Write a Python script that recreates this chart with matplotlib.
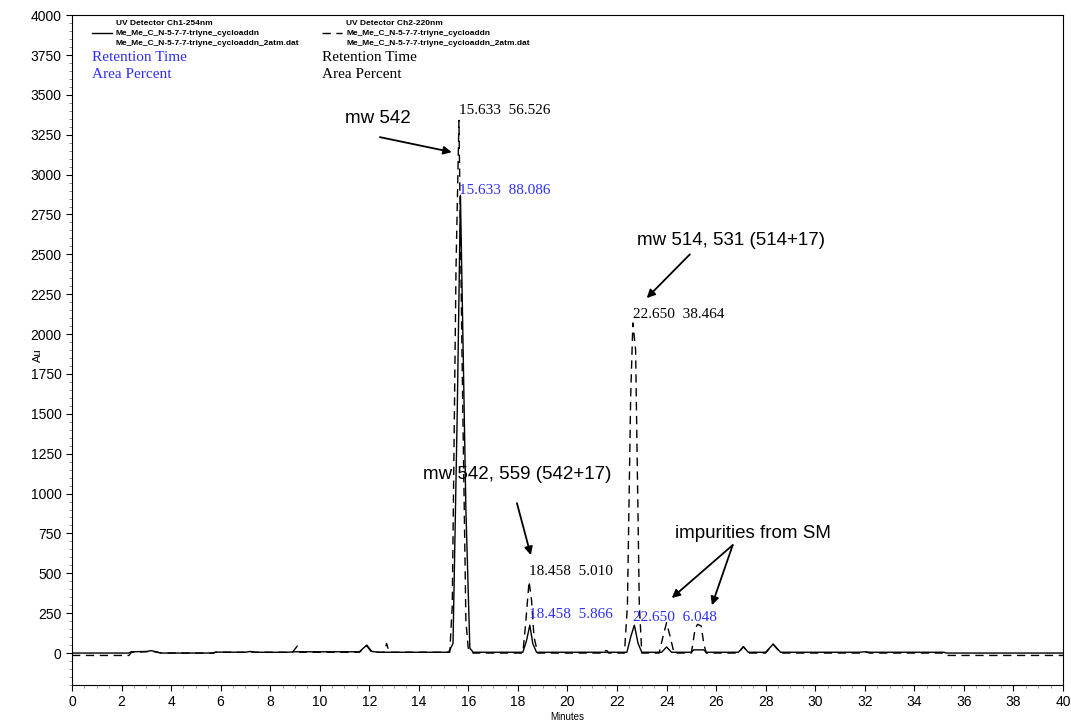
import matplotlib
matplotlib.use("Agg")
import matplotlib.pyplot as plt
from matplotlib.ticker import MultipleLocator

# channel 1 (254 nm), solid trace: time (min), signal (Au)
ch1_t = [0, 2.3, 2.4, 3.0, 3.2, 3.4, 3.6, 5.7, 5.8, 7.0, 7.2, 7.4, 8.7, 9.0,
         11.6, 11.9, 12.1, 12.4, 15.2, 15.38, 15.55, 15.68, 15.8, 15.9, 16.06, 16.2,
         18.2, 18.35, 18.48, 18.6, 18.75, 21.5, 22.4, 22.55, 22.7, 22.85, 23.0,
         23.8, 24.0, 24.2, 25.0, 25.1, 25.5, 25.6, 26.9, 27.1, 27.3, 28.0, 28.3,
         28.6, 31.8, 32.0, 32.2, 34.5, 35.2, 35.3, 40]
ch1_v = [0, 0, 8, 10, 15, 8, 0, 0, 6, 5, 10, 5, 5, 8,
         8, 50, 10, 5, 5, 60, 1500, 2870, 1800, 900, 30, 5,
         5, 80, 175, 60, 5, 5, 5, 100, 175, 60, 5,
         5, 38, 5, 5, 20, 20, 5, 5, 40, 5, 5, 56,
         5, 5, 8, 5, 5, 5, 0, 0]

# channel 2 (220 nm), dashed trace
ch2_t = [0, 2.3, 2.4, 3.0, 3.2, 3.4, 3.6, 5.7, 5.8, 7.0, 7.2, 7.4, 8.9, 9.1,
         9.2, 11.6, 11.9, 12.1, 12.6, 12.7, 12.8, 15.25, 15.35, 15.5, 15.62, 15.75,
         15.9, 16.0, 16.2, 18.2, 18.32, 18.45, 18.55, 18.65, 18.8, 21.35, 21.4,
         21.6, 21.65, 22.3, 22.42, 22.55, 22.64, 22.75, 22.9, 23.0, 23.7, 23.85,
         24.0, 24.15, 24.3, 25.0, 25.15, 25.25, 25.4, 25.5, 25.6, 26.9, 27.1, 27.3,
         28.0, 28.3, 28.6, 31.8, 32.0, 32.2, 35.2, 35.3, 40]
ch2_v = [-15, -15, 5, 8, 12, 6, 0, 0, 5, 5, 8, 5, 5, 45,
         5, 5, 45, 5, 5, 60, 5, 5, 300, 2400, 3340, 1800,
         200, 20, 0, 0, 200, 450, 330, 100, 0, 0, 15,
         15, 0, 0, 300, 1600, 2070, 1900, 300, 0, 0, 100,
         190, 100, 0, 0, 150, 180, 170, 60, 0, 0, 40, 0,
         0, 56, 0, 0, 8, 0, 0, -15, -15]

# peak annotations: x (min), y (Au), text, colour
peak_x = [15.633, 15.633, 18.458, 18.458, 22.650, 22.650]
peak_y = [3360, 2860, 470, 200, 2080, 185]
peak_txt = ["15.633  56.526", "15.633  88.086", "18.458  5.010",
            "18.458  5.866", "22.650  38.464", "22.650  6.048"]
peak_col = ["black", "#2e2eff", "black", "#2e2eff", "black", "#2e2eff"]

blue = "#2e2eff"
sans = "Liberation Sans"
serif = "Liberation Serif"

fig = plt.figure(figsize=(10.71, 7.21), dpi=100)
ax = fig.add_axes([0.0672, 0.05, 0.9253, 0.929])

ax.plot(ch1_t, ch1_v, color="black", lw=1.0)
ax.plot(ch2_t, ch2_v, color="black", lw=1.0, linestyle=(0, (6, 4)))

ax.set_xlim(0, 40)
ax.set_ylim(-200, 4000)
ax.xaxis.set_major_locator(MultipleLocator(2))
ax.xaxis.set_minor_locator(MultipleLocator(0.5))
ax.yaxis.set_major_locator(MultipleLocator(250))
ax.yaxis.set_minor_locator(MultipleLocator(50))
ax.tick_params(which="major", length=4, width=0.8, labelsize=10)
ax.tick_params(which="minor", length=2, width=0.6, color="gray")
for lab in ax.get_xticklabels() + ax.get_yticklabels():
    lab.set_family(sans)
ax.set_xlabel("Minutes", family=sans, fontsize=7, labelpad=2)
ax.text(-0.034, 0.4925, "Au", transform=ax.transAxes, family=sans, fontsize=8,
        rotation=90, ha="center", va="center")

# peak labels
for x, y, s, c in zip(peak_x, peak_y, peak_txt, peak_col):
    ax.text(x, y, s, color=c, family=serif, fontsize=11, ha="left", va="bottom")

# header / legend block
hdr = dict(transform=ax.transAxes, family=sans, fontsize=6, fontweight="bold", va="center")
ax.text(0.044, 0.988, "UV Detector Ch1-254nm", **hdr)
ax.text(0.044, 0.973, "Me_Me_C_N-5-7-7-triyne_cycloaddn", **hdr)
ax.text(0.044, 0.958, "Me_Me_C_N-5-7-7-triyne_cycloaddn_2atm.dat", **hdr)
ax.plot([0.02, 0.04], [0.973, 0.973], transform=ax.transAxes, color="black", lw=1)
ax.text(0.277, 0.988, "UV Detector Ch2-220nm", **hdr)
ax.text(0.277, 0.973, "Me_Me_C_N-5-7-7-triyne_cycloaddn", **hdr)
ax.text(0.277, 0.958, "Me_Me_C_N-5-7-7-triyne_cycloaddn_2atm.dat", **hdr)
ax.plot([0.252, 0.272], [0.973, 0.973], transform=ax.transAxes, color="black", lw=1,
        linestyle=(0, (6, 4)))
ax.text(0.02, 0.937, "Retention Time", transform=ax.transAxes, family=serif,
        fontsize=11, color=blue, va="center")
ax.text(0.02, 0.912, "Area Percent", transform=ax.transAxes, family=serif,
        fontsize=11, color=blue, va="center")
ax.text(0.252, 0.937, "Retention Time", transform=ax.transAxes, family=serif,
        fontsize=11, color="black", va="center")
ax.text(0.252, 0.912, "Area Percent", transform=ax.transAxes, family=serif,
        fontsize=11, color="black", va="center")

# call-outs
arw = dict(arrowstyle="-|>", color="black", lw=1.3, mutation_scale=12, shrinkA=0, shrinkB=0)
ax.text(12.35, 3354, "mw 542", family=sans, fontsize=13.5, ha="center", va="center")
ax.annotate("", xy=(15.33, 3141), xytext=(12.43, 3235), arrowprops=arw)
ax.text(26.6, 2589, "mw 514, 531 (514+17)", family=sans, fontsize=13.5, ha="center", va="center")
ax.annotate("", xy=(23.2, 2226), xytext=(24.94, 2500), arrowprops=arw)
ax.text(17.96, 1122, "mw 542, 559 (542+17)", family=sans, fontsize=13.5, ha="center", va="center")
ax.annotate("", xy=(18.52, 614), xytext=(17.96, 940), arrowprops=arw)
ax.text(27.48, 752, "impurities from SM", family=sans, fontsize=13.5, ha="center", va="center")
ax.annotate("", xy=(24.21, 345), xytext=(26.67, 677), arrowprops=arw)
ax.annotate("", xy=(25.83, 300), xytext=(26.67, 677), arrowprops=arw)

fig.savefig("out.png", dpi=100)
